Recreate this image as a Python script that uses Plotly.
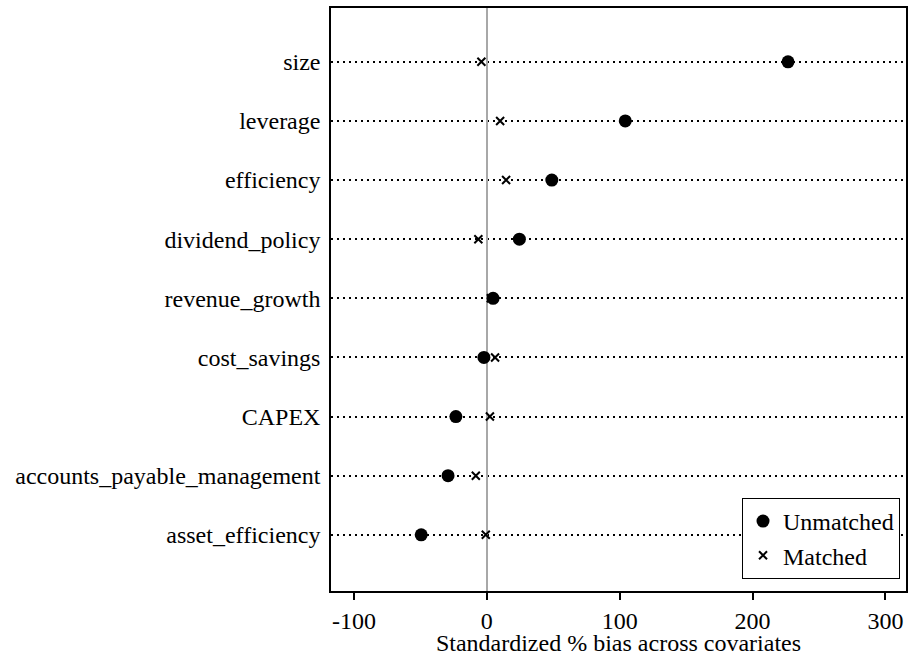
import plotly.graph_objects as go

covariates = ["size", "leverage", "efficiency", "dividend_policy", "revenue_growth",
              "cost_savings", "CAPEX", "accounts_payable_management", "asset_efficiency"]
unmatched = [226.7, 104.2, 48.9, 24.5, 4.7, -2.2, -23.3, -29.2, -49.4]
matched = [-4.1, 10.0, 14.5, -6.4, 3.0, 6.2, 2.3, -8.3, -0.8]
x_ticks = [-100, 0, 100, 200, 300]

n = len(covariates)
ypos = [n - i for i in range(n)]

FONT = "Liberation Serif"

fig = go.Figure()
fig.add_trace(go.Scatter(
    x=unmatched, y=ypos, mode="markers", name="Unmatched",
    marker=dict(symbol="circle", size=13, color="black"),
))
fig.add_trace(go.Scatter(
    x=matched, y=ypos, mode="markers", name="Matched",
    marker=dict(symbol="x-thin", size=8, color="black",
                line=dict(width=2, color="black")),
))

fig.update_layout(
    width=910, height=656,
    margin=dict(l=331, r=2, t=8, b=65),
    paper_bgcolor="white", plot_bgcolor="white",
    font=dict(family=FONT, size=24, color="black"),
    showlegend=True,
    legend=dict(x=0.9896, y=0.0206, xanchor="right", yanchor="bottom",
                bordercolor="black", borderwidth=1, bgcolor="white",
                font=dict(family=FONT, size=24), itemwidth=30,
                tracegroupgap=0),
    xaxis=dict(
        range=[-117.3, 315.5], tickvals=x_ticks,
        ticktext=[str(v) for v in x_ticks],
        ticks="outside", ticklen=7, tickwidth=1.5, tickcolor="black",
        showgrid=False,
        zeroline=True, zerolinecolor="#a8a8a8", zerolinewidth=2,
        showline=True, linecolor="black", linewidth=1.5, mirror=True,
        title=dict(text="Standardized % bias across covariates", standoff=3,
                   font=dict(family=FONT, size=24)),
        tickfont=dict(family=FONT, size=24),
    ),
    yaxis=dict(
        range=[0.05, 9.91], tickvals=ypos, ticktext=covariates,
        ticks="", showgrid=True, gridcolor="black", griddash="2px,4px", gridwidth=2,
        zeroline=False,
        showline=True, linecolor="black", linewidth=1.5, mirror=True,
        tickfont=dict(family=FONT, size=24), ticklabelstandoff=4,
    ),
)

fig.write_html(
    "out.html",
    config={"displayModeBar": False},
    post_script="document.body.style.margin='0';document.body.style.overflow='hidden';",
)
